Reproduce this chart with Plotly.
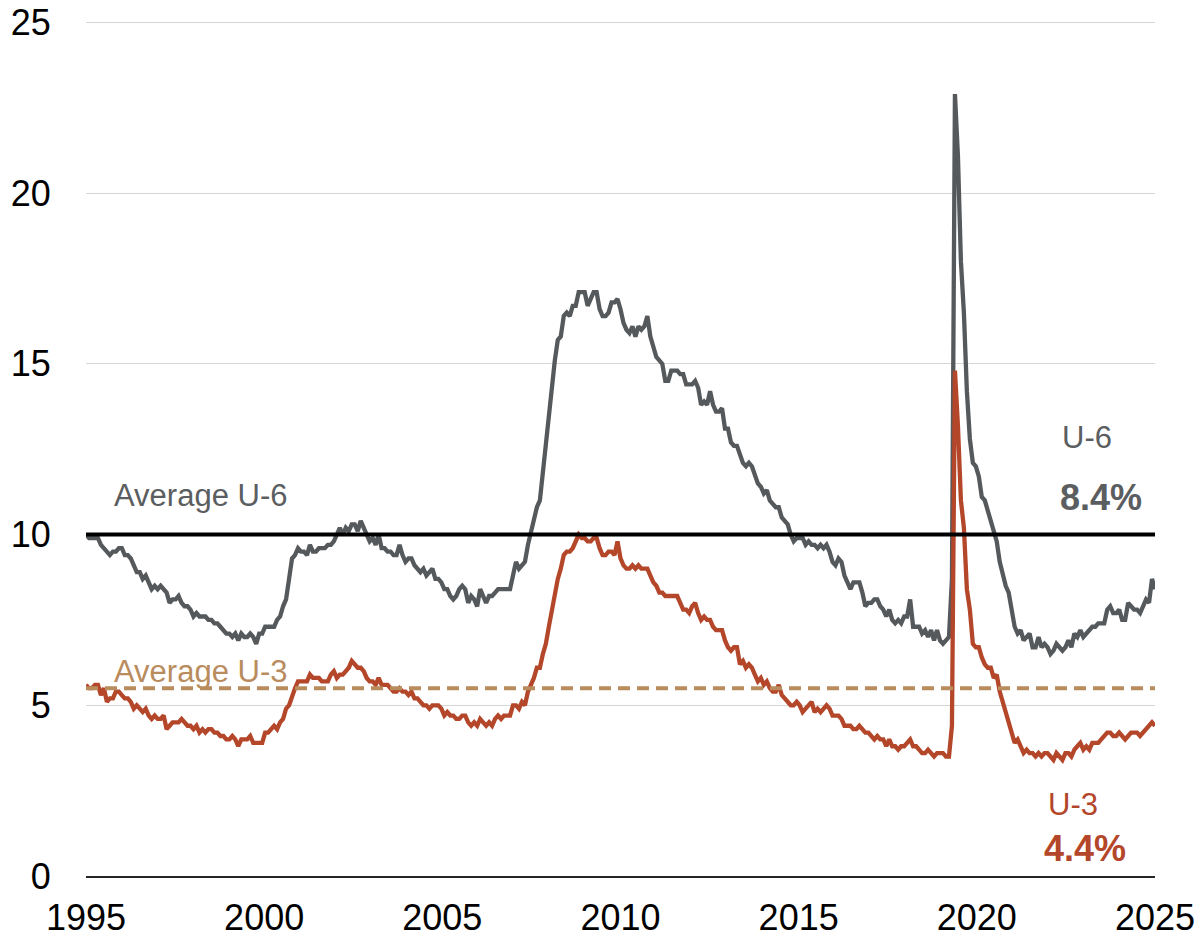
import plotly.graph_objects as go
import pandas as pd

# ---------------- data ----------------
tick_years = ["1995", "2000", "2005", "2010", "2015", "2020", "2025"]

# U-6 monthly rate, Jan 1996 .. Dec 2025 (Oct 2025 not published)
u6_rate = [
    10.0, 9.9, 9.9, 9.9, 9.9, 9.7, 9.6, 9.5, 9.4, 9.5, 9.5, 9.6,
    9.6, 9.4, 9.4, 9.3, 9.1, 8.9, 8.9, 8.7, 8.8, 8.6, 8.4, 8.5,
    8.4, 8.5, 8.4, 8.3, 8.0, 8.1, 8.1, 8.2, 8.0, 7.9, 7.9, 7.8,
    7.6, 7.7, 7.6, 7.6, 7.6, 7.5, 7.5, 7.4, 7.4, 7.3, 7.2, 7.1,
    7.1, 7.0, 7.1, 6.9, 7.1, 7.0, 7.0, 7.1, 7.0, 6.8, 7.1, 7.1,
    7.3, 7.3, 7.3, 7.3, 7.5, 7.6, 7.9, 8.1, 8.7, 9.3, 9.4, 9.6,
    9.5, 9.5, 9.4, 9.7, 9.5, 9.5, 9.6, 9.6, 9.6, 9.7, 9.7, 9.8,
    10.0, 10.2, 10.0, 10.2, 10.1, 10.3, 10.3, 10.1, 10.4, 10.2, 10.0, 9.8,
    9.9, 9.7, 10.0, 9.6, 9.6, 9.5, 9.5, 9.4, 9.4, 9.7, 9.4, 9.2,
    9.3, 9.3, 9.1, 9.0, 8.9, 9.0, 8.8, 8.9, 9.0, 8.7, 8.7, 8.6,
    8.4, 8.4, 8.2, 8.1, 8.2, 8.4, 8.5, 8.4, 8.0, 8.2, 8.1, 7.9,
    8.4, 8.2, 8.0, 8.2, 8.2, 8.3, 8.4, 8.4, 8.4, 8.4, 8.4, 8.8,
    9.2, 9.0, 9.1, 9.2, 9.7, 10.1, 10.5, 10.8, 11.0, 11.8, 12.6, 13.6,
    14.2, 15.1, 15.7, 15.8, 16.4, 16.5, 16.4, 16.7, 16.7, 17.1, 17.1, 17.1,
    16.7, 16.9, 17.1, 17.1, 16.6, 16.4, 16.4, 16.5, 16.8, 16.8, 16.9, 16.6,
    16.2, 16.0, 15.9, 16.1, 15.8, 16.1, 16.0, 16.1, 16.4, 15.8, 15.5, 15.2,
    15.1, 15.0, 14.5, 14.5, 14.8, 14.8, 14.8, 14.7, 14.7, 14.4, 14.4, 14.4,
    14.5, 14.3, 13.8, 13.9, 13.8, 14.2, 13.8, 13.6, 13.6, 13.7, 13.1, 13.1,
    12.7, 12.6, 12.6, 12.3, 12.1, 12.0, 12.1, 12.0, 11.7, 11.5, 11.4, 11.2,
    11.3, 11.0, 10.9, 10.8, 10.8, 10.5, 10.4, 10.3, 10.0, 9.8, 9.9, 9.9,
    9.9, 9.7, 9.8, 9.7, 9.7, 9.6, 9.7, 9.6, 9.7, 9.5, 9.2, 9.1,
    9.3, 9.2, 8.8, 8.6, 8.4, 8.6, 8.6, 8.6, 8.3, 7.9, 8.0, 8.0,
    8.1, 8.1, 7.9, 7.8, 7.6, 7.8, 7.5, 7.4, 7.5, 7.4, 7.6, 7.6,
    8.1, 7.3, 7.3, 7.3, 7.1, 7.2, 7.0, 7.2, 6.9, 7.2, 6.9, 6.8,
    6.9, 7.0, 8.7, 22.9, 21.1, 18.0, 16.5, 14.2, 12.8, 12.1, 12.0, 11.7,
    11.1, 11.0, 10.7, 10.4, 10.2, 9.8, 9.2, 8.8, 8.5, 8.3, 7.8, 7.3,
    7.1, 7.2, 6.9, 7.0, 7.1, 6.7, 6.7, 7.0, 6.7, 6.8, 6.7, 6.5,
    6.6, 6.8, 6.7, 6.6, 6.7, 6.9, 6.7, 7.1, 7.0, 7.2, 7.0, 7.1,
    7.2, 7.3, 7.3, 7.4, 7.4, 7.4, 7.8, 7.9, 7.7, 7.7, 7.8, 7.5,
    7.5, 8.0, 7.9, 7.8, 7.8, 7.7, 7.9, 8.1, 8.0, 8.7, 8.4,
]

# U-3 monthly rate, Jan 1996 .. Dec 2025 (Oct 2025 not published)
u3_rate = [
    5.6, 5.5, 5.5, 5.6, 5.6, 5.3, 5.5, 5.1, 5.2, 5.2, 5.4, 5.4,
    5.3, 5.2, 5.2, 5.1, 4.9, 5.0, 4.9, 4.8, 4.9, 4.7, 4.6, 4.7,
    4.6, 4.6, 4.7, 4.3, 4.4, 4.5, 4.5, 4.5, 4.6, 4.5, 4.4, 4.4,
    4.3, 4.4, 4.2, 4.3, 4.2, 4.3, 4.3, 4.2, 4.2, 4.1, 4.1, 4.0,
    4.0, 4.1, 4.0, 3.8, 4.0, 4.0, 4.0, 4.1, 3.9, 3.9, 3.9, 3.9,
    4.2, 4.2, 4.3, 4.4, 4.3, 4.5, 4.6, 4.9, 5.0, 5.3, 5.5, 5.7,
    5.7, 5.7, 5.7, 5.9, 5.8, 5.8, 5.8, 5.7, 5.7, 5.7, 5.9, 6.0,
    5.8, 5.9, 5.9, 6.0, 6.1, 6.3, 6.2, 6.1, 6.1, 6.0, 5.8, 5.7,
    5.7, 5.6, 5.8, 5.6, 5.6, 5.6, 5.5, 5.4, 5.4, 5.5, 5.4, 5.4,
    5.3, 5.4, 5.2, 5.2, 5.1, 5.0, 5.0, 4.9, 5.0, 5.0, 5.0, 4.9,
    4.7, 4.8, 4.7, 4.7, 4.6, 4.6, 4.7, 4.7, 4.5, 4.4, 4.5, 4.4,
    4.6, 4.5, 4.4, 4.5, 4.4, 4.6, 4.7, 4.6, 4.7, 4.7, 4.7, 5.0,
    5.0, 4.9, 5.1, 5.0, 5.4, 5.6, 5.8, 6.1, 6.1, 6.5, 6.8, 7.3,
    7.8, 8.3, 8.7, 9.0, 9.4, 9.5, 9.5, 9.6, 9.8, 10.0, 9.9, 9.9,
    9.8, 9.8, 9.9, 9.9, 9.6, 9.4, 9.4, 9.5, 9.5, 9.4, 9.8, 9.3,
    9.1, 9.0, 9.0, 9.1, 9.0, 9.1, 9.0, 9.0, 9.0, 8.8, 8.6, 8.5,
    8.3, 8.3, 8.2, 8.2, 8.2, 8.2, 8.2, 8.0, 7.8, 7.8, 7.7, 7.9,
    8.0, 7.7, 7.5, 7.6, 7.5, 7.5, 7.3, 7.2, 7.2, 7.2, 6.9, 6.7,
    6.6, 6.7, 6.7, 6.2, 6.3, 6.1, 6.2, 6.1, 5.9, 5.7, 5.8, 5.6,
    5.7, 5.5, 5.4, 5.4, 5.6, 5.3, 5.2, 5.1, 5.0, 5.0, 5.1, 5.0,
    4.8, 4.9, 5.0, 5.1, 4.8, 4.9, 4.8, 4.9, 5.0, 4.9, 4.7, 4.7,
    4.7, 4.6, 4.4, 4.4, 4.4, 4.3, 4.3, 4.4, 4.3, 4.2, 4.2, 4.1,
    4.0, 4.1, 4.0, 4.0, 3.8, 4.0, 3.8, 3.8, 3.7, 3.8, 3.8, 3.9,
    4.0, 3.8, 3.8, 3.7, 3.6, 3.6, 3.7, 3.6, 3.5, 3.6, 3.6, 3.6,
    3.5, 3.5, 4.4, 14.8, 13.2, 11.0, 10.2, 8.4, 7.8, 6.8, 6.7, 6.7,
    6.4, 6.2, 6.1, 6.1, 5.8, 5.9, 5.4, 5.1, 4.7, 4.5, 4.2, 3.9,
    4.0, 3.8, 3.6, 3.7, 3.6, 3.6, 3.5, 3.6, 3.5, 3.6, 3.6, 3.5,
    3.4, 3.6, 3.5, 3.4, 3.6, 3.6, 3.5, 3.7, 3.8, 3.9, 3.7, 3.8,
    3.7, 3.9, 3.9, 3.9, 4.0, 4.1, 4.2, 4.2, 4.1, 4.1, 4.2, 4.1,
    4.0, 4.1, 4.2, 4.2, 4.2, 4.1, 4.2, 4.3, 4.4, 4.5, 4.4,
]

avg_u6 = 10.0
avg_u3 = 5.5
latest_u6 = "8.4%"
latest_u3 = "4.4%"

months = [d.strftime("%b %Y")
          for d in pd.date_range("1996-01-01", "2025-12-01", freq="MS")
          if not (d.year == 2025 and d.month == 10)]
assert len(months) == len(u6_rate) == len(u3_rate)

# ---------------- styling ----------------
FONT = "Liberation Sans, Arial, sans-serif"
C_U6 = "#55595c"
C_U3 = "#b4462a"
C_AVG3 = "#b98c5e"
C_TEXT6 = "#5b5e61"

x = list(range(len(months)))
n = len(months) - 1
tickvals = [n * i / (len(tick_years) - 1) for i in range(len(tick_years))]

fig = go.Figure()
fig.add_trace(go.Scatter(x=x, y=u6_rate, mode="lines", name="U-6", text=months,
                         line=dict(color=C_U6, width=4.3)))
fig.add_trace(go.Scatter(x=x, y=u3_rate, mode="lines", name="U-3", text=months,
                         line=dict(color=C_U3, width=4.3)))

fig.add_hline(y=avg_u6, line=dict(color="black", width=4), layer="above")
fig.add_hline(y=avg_u3, line=dict(color=C_AVG3, width=4, dash="12px,7px"), layer="above")

ann = [
    dict(text="Average U-6", x=0.024, y=11.15, xanchor="left", color=C_TEXT6, size=31, bold=False),
    dict(text="Average U-3", x=0.024, y=6.0, xanchor="left", color=C_AVG3, size=31, bold=False),
    dict(text="U-6", x=0.9364, y=12.85, xanchor="center", color=C_TEXT6, size=31, bold=False),
    dict(text=latest_u6, x=0.9495, y=11.1, xanchor="center", color=C_TEXT6, size=36, bold=True),
    dict(text="U-3", x=0.9233, y=2.08, xanchor="center", color=C_U3, size=31, bold=False),
    dict(text=latest_u3, x=0.9345, y=0.82, xanchor="center", color=C_U3, size=36, bold=True),
]
for a in ann:
    fig.add_annotation(
        text=f"<b>{a['text']}</b>" if a["bold"] else a["text"],
        x=a["x"], xref="paper", y=a["y"], yref="y",
        xanchor=a["xanchor"], yanchor="middle", showarrow=False,
        font=dict(family=FONT, size=a["size"], color=a["color"]),
    )

fig.update_layout(
    width=1198, height=937,
    margin=dict(l=86, r=43, t=19, b=61),
    plot_bgcolor="white", paper_bgcolor="white",
    showlegend=False,
    font=dict(family=FONT, color="black"),
    xaxis=dict(
        range=[0, n], tickvals=tickvals, ticktext=tick_years,
        showgrid=False, zeroline=False, automargin=False,
        showline=True, linecolor="#262626", linewidth=1.5,
        ticks="outside", ticklen=9, tickcolor="rgba(0,0,0,0)",
        tickfont=dict(family=FONT, size=36, color="black"),
    ),
    yaxis=dict(
        range=[0, 25.1], tickvals=[0, 5, 10, 15, 20, 25],
        showgrid=True, gridcolor="#d6d6d6", gridwidth=1,
        zeroline=False, showline=False, automargin=False,
        ticks="outside", ticklen=27, tickcolor="rgba(0,0,0,0)",
        tickfont=dict(family=FONT, size=36, color="black"),
    ),
)

fig.write_html(
    "out.html",
    config={"displayModeBar": False},
    post_script="document.body.style.margin='0';document.body.style.overflow='hidden';",
)
